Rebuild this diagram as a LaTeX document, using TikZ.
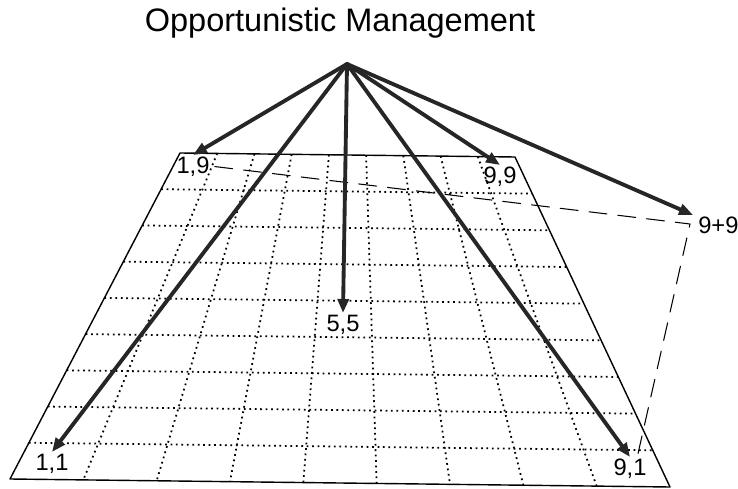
\documentclass[tikz,border=0pt]{standalone}
\usepackage{fontspec}
\setmainfont{Liberation Sans}
\usetikzlibrary{arrows.meta,calc}

\begin{document}
\begin{tikzpicture}[line cap=round, line join=round,
    pt/.style={inner xsep=3pt, inner ysep=1pt, outer sep=0pt, font=\fontsize{13.5}{16}\selectfont},
    vec/.style={line width=2.2pt, draw=black!85, -{Triangle[length=0.28cm, width=0.22cm]}},
    grd/.style={line width=1pt, line cap=butt, dash pattern=on 1pt off 2.1pt},
    frame/.style={line width=0.8pt}]
  \useasboundingbox (0,0) rectangle (14.76,9.76);
  \node[font=\fontsize{18.5}{22}\selectfont] (title) at (6.80,9.30) {Opportunistic Management};
  \coordinate (top) at (6.94,8.48);
  \coordinate (gTL) at (3.60,6.70);
  \coordinate (gTR) at (10.30,6.62);
  \coordinate (gBL) at (0.20,0.18);
  \coordinate (gBR) at (13.40,0.02);
  \foreach \i in {1,...,8} {
    \draw[grd] ($(gTL)!\i/9!(gTR)$) -- ($(gBL)!\i/9!(gBR)$);
    \draw[grd] ($(gTL)!\i/9!(gBL)$) -- ($(gTR)!\i/9!(gBR)$);
  }
  \draw[frame] (gTL) -- (gTR) -- (gBR) -- (gBL) -- cycle;
  \node[pt, anchor=north] (n19) at (3.86,6.66) {1,9};
  \node[pt, anchor=north] (n99) at (10.00,6.46) {9,9};
  \node[pt, anchor=north west] (n9p9) at (13.86,5.46) {9+9};
  \node[pt, anchor=north] (n55) at (6.86,3.50) {5,5};
  \node[pt, anchor=north] (n11) at (1.04,0.72) {1,1};
  \node[pt, anchor=north] (n91) at (12.60,0.62) {9,1};
  \coordinate (cn) at (13.80,5.28);
  \coordinate (dn) at (12.74,0.60);
  \draw[line width=0.6pt, dash pattern=on 0.36cm off 0.22cm] (n19.east) -- (cn) -- (dn);
  \draw[vec] (top) -- (n19.north);
  \draw[vec] (top) -- (n99.north);
  \draw[vec] (top) -- (n9p9.north west);
  \draw[vec] (top) -- (n55.north);
  \draw[vec] (top) -- (n11.north);
  \draw[vec] (top) -- (n91.north);
\end{tikzpicture}
\end{document}
